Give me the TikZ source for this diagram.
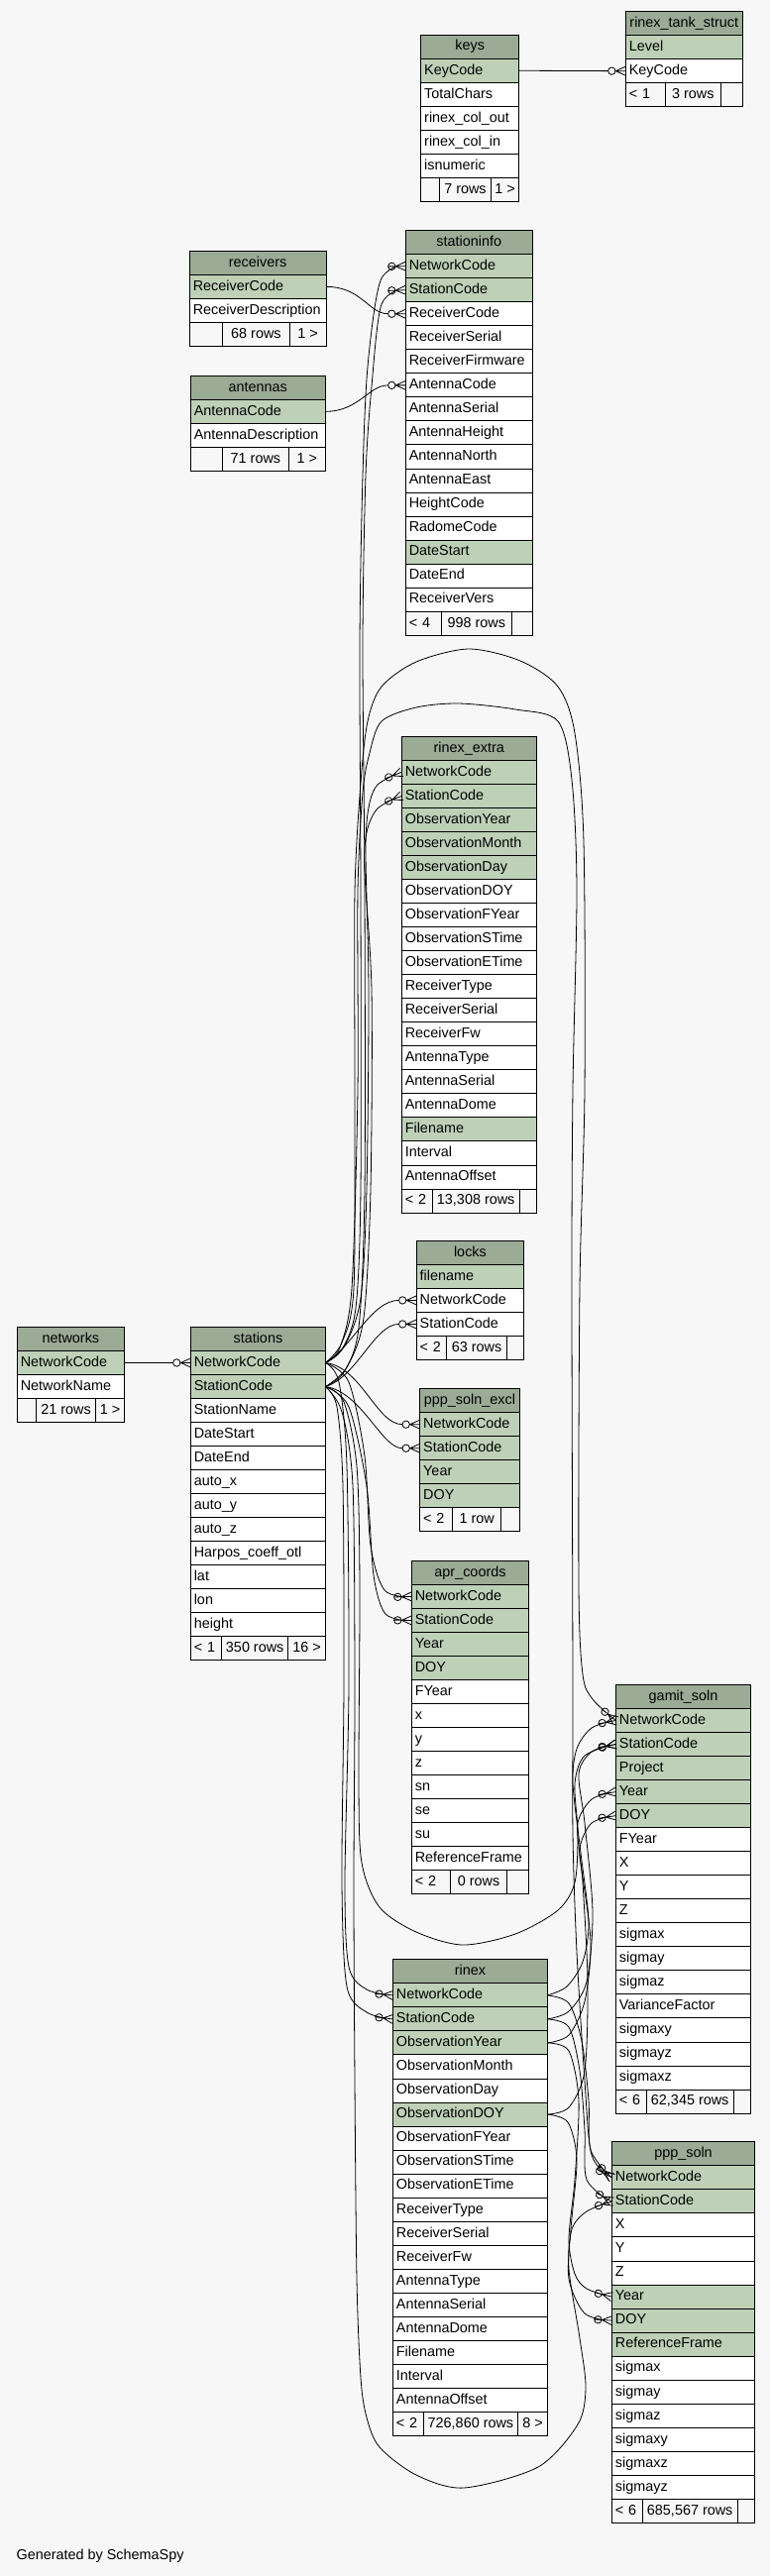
\documentclass[tikz,border=0pt]{standalone}
\usepackage{fontspec}
\setmainfont{Liberation Sans}
\usetikzlibrary{arrows.meta}
\pgfdeclarearrow{
  name = CrowODot,
  setup code = {
    \pgfarrowssettipend{18pt}
    \pgfarrowssetlineend{0.2pt}
    \pgfarrowssetbackend{0pt}
    \pgfarrowssetvisualbackend{0pt}
    \pgfarrowshullpoint{18pt}{4.5pt}
    \pgfarrowshullpoint{18pt}{-4.5pt}
    \pgfarrowshullpoint{0pt}{3.8pt}
    \pgfarrowshullpoint{0pt}{-3.8pt}
  },
  drawing code = {
    \pgfsetdash{}{0pt}
    \pgfpathcircle{\pgfqpoint{4pt}{0pt}}{3.7pt}
    \pgfusepathqstroke
    \pgfpathmoveto{\pgfqpoint{18pt}{4.5pt}}
    \pgfpathlineto{\pgfqpoint{8pt}{0pt}}
    \pgfpathlineto{\pgfqpoint{18pt}{-4.5pt}}
    \pgfpathmoveto{\pgfqpoint{8pt}{0pt}}
    \pgfpathlineto{\pgfqpoint{18pt}{0pt}}
    \pgfusepathqstroke
  }
}
\definecolor{bgc}{HTML}{F7F7F7}
\definecolor{hdrc}{HTML}{9BAB96}
\definecolor{kc}{HTML}{BED1B8}
\definecolor{wc}{HTML}{FFFFFF}
\newcommand{\rh}{24.04}
\newcommand{\tblfont}{\fontsize{14.4pt}{17pt}\selectfont}
\tikzset{
  hdr/.style={draw=black, line width=1pt, fill=hdrc, anchor=north west, minimum height=\rh pt, inner xsep=2pt, inner ysep=0pt, outer sep=0pt, text height=10.5pt, text depth=3pt, font=\tblfont},
  fld/.style={draw=black, line width=1pt, anchor=north west, minimum height=\rh pt, inner xsep=3.5pt, inner ysep=0pt, outer sep=0pt, text height=10.5pt, text depth=3pt, align=left, font=\tblfont},
  ftl/.style={fld, fill=bgc},
  ftc/.style={draw=black, line width=1pt, fill=bgc, anchor=north west, minimum height=\rh pt, inner xsep=0pt, inner ysep=0pt, outer sep=0pt, text height=10.5pt, text depth=3pt, font=\tblfont},
  fk/.style={draw=black, line width=0.8pt, -{CrowODot}},
  sm/.style={smooth, tension=0.5},
}
\newcommand{\dbtable}[6]{%
  \node[hdr, minimum width=#4pt] (#1-h) at (#2,#3) {#5};
  \pgfmathsetmacro{\dbtw}{#4-7}%
  \foreach \rowcol/\rowtext [count=\ri] in {#6}{%
    \node[fld, fill=\rowcol, text width=\dbtw pt] (#1-\ri) at (#2,{#3+\ri*\rh}) {\mbox{\rowtext}};
    \xdef\lastrow{\ri}%
  }
  \coordinate (#1-foot) at (#2,{#3+(\lastrow+1)*\rh});
}
\newcommand{\dbfoot}[7]{%
  \pgfmathsetmacro{\dbfa}{#2-7}%
  \node[ftl, text width=\dbfa pt] (#1-f1) at (#1-foot) {\mbox{#5}};
  \node[ftc, minimum width=#3pt] (#1-f2) at (#1-f1.north east) {#6};
  \node[ftc, minimum width=#4pt] (#1-f3) at (#1-f2.north east) {#7};
}
\begin{document}
\begin{tikzpicture}[x=1pt,y=-1pt]
\fill[bgc] (0,0) rectangle (777,2600);
\useasboundingbox (0,0) rectangle (777,2600);

% ---------- tables ----------
\dbtable{keys}{424.7}{35.2}{99.1}{keys}{kc/KeyCode,wc/TotalChars,wc/rinex\_col\_out,wc/rinex\_col\_in,wc/isnumeric}
\dbfoot{keys}{18.8}{52}{28.3}{}{7 rows}{1 >}

\dbtable{rts}{631.3}{11.6}{118}{rinex\_tank\_struct}{kc/Level,wc/KeyCode}
\dbfoot{rts}{40.1}{56}{21.9}{< 1}{3 rows}{}

\dbtable{rec}{191.3}{253.3}{137.7}{receivers}{kc/ReceiverCode,wc/ReceiverDescription}
\dbfoot{rec}{33.2}{67.9}{36.6}{}{68 rows}{1 >}

\dbtable{ant}{192.3}{379.3}{135.8}{antennas}{kc/AntennaCode,wc/AntennaDescription}
\dbfoot{ant}{32.2}{66.9}{36.7}{}{71 rows}{1 >}

\dbtable{sti}{409.3}{232.6}{127.9}{stationinfo}{kc/NetworkCode,kc/StationCode,wc/ReceiverCode,wc/ReceiverSerial,wc/ReceiverFirmware,wc/AntennaCode,wc/AntennaSerial,wc/AntennaHeight,wc/AntennaNorth,wc/AntennaEast,wc/HeightCode,wc/RadomeCode,kc/DateStart,wc/DateEnd,wc/ReceiverVers}
\dbfoot{sti}{36.2}{70.8}{20.9}{< 4}{998 rows}{}

\dbtable{rex}{405.3}{743.3}{135.8}{rinex\_extra}{kc/NetworkCode,kc/StationCode,kc/ObservationYear,kc/ObservationMonth,kc/ObservationDay,wc/ObservationDOY,wc/ObservationFYear,wc/ObservationSTime,wc/ObservationETime,wc/ReceiverType,wc/ReceiverSerial,wc/ReceiverFw,wc/AntennaType,wc/AntennaSerial,wc/AntennaDome,kc/Filename,wc/Interval,wc/AntennaOffset}
\dbfoot{rex}{30.8}{88.2}{16.8}{< 2}{13,308 rows}{}

\dbtable{locks}{420.2}{1252.3}{108.5}{locks}{kc/filename,wc/NetworkCode,wc/StationCode}
\dbfoot{locks}{30.7}{60.5}{17.3}{< 2}{63 rows}{}

\dbtable{net}{17.3}{1339.4}{108.1}{networks}{kc/NetworkCode,wc/NetworkName}
\dbfoot{net}{19.4}{59.9}{28.8}{}{21 rows}{1 >}

\dbtable{sta}{192.3}{1339.4}{136.2}{stations}{kc/NetworkCode,kc/StationCode,wc/StationName,wc/DateStart,wc/DateEnd,wc/auto\_x,wc/auto\_y,wc/auto\_z,wc/Harpos\_coeff\_otl,wc/lat,wc/lon,wc/height}
\dbfoot{sta}{31.2}{67.4}{37.6}{< 1}{350 rows}{16 >}

\dbtable{pse}{423.7}{1401.6}{100.6}{ppp\_soln\_excl}{kc/NetworkCode,kc/StationCode,kc/Year,kc/DOY}
\dbfoot{pse}{33.2}{48.5}{18.9}{< 2}{1 row}{}

\dbtable{apr}{415.3}{1575.3}{118.4}{apr\_coords}{kc/NetworkCode,kc/StationCode,kc/Year,kc/DOY,wc/FYear,wc/x,wc/y,wc/z,wc/sn,wc/se,wc/su,wc/ReferenceFrame}
\dbfoot{apr}{39.6}{56.5}{22.3}{< 2}{0 rows}{}

\dbtable{gam}{621.4}{1700.4}{136.3}{gamit\_soln}{kc/NetworkCode,kc/StationCode,kc/Project,kc/Year,kc/DOY,wc/FYear,wc/X,wc/Y,wc/Z,wc/sigmax,wc/sigmay,wc/sigmaz,wc/VarianceFactor,wc/sigmaxy,wc/sigmayz,wc/sigmaxz}
\dbfoot{gam}{30.7}{88.2}{17.4}{< 6}{62,345 rows}{}

\dbtable{rnx}{396.4}{1977.8}{156.1}{rinex}{kc/NetworkCode,kc/StationCode,kc/ObservationYear,wc/ObservationMonth,wc/ObservationDay,kc/ObservationDOY,wc/ObservationFYear,wc/ObservationSTime,wc/ObservationETime,wc/ReceiverType,wc/ReceiverSerial,wc/ReceiverFw,wc/AntennaType,wc/AntennaSerial,wc/AntennaDome,wc/Filename,wc/Interval,wc/AntennaOffset}
\dbfoot{rnx}{30.7}{95.7}{29.7}{< 2}{726,860 rows}{8 >}

\dbtable{ppp}{617.4}{2161.8}{144.2}{ppp\_soln}{kc/NetworkCode,kc/StationCode,wc/X,wc/Y,wc/Z,kc/Year,kc/DOY,kc/ReferenceFrame,wc/sigmax,wc/sigmay,wc/sigmaz,wc/sigmaxy,wc/sigmaxz,wc/sigmayz}
\dbfoot{ppp}{30.7}{96.2}{17.3}{< 6}{685,567 rows}{}

\node[anchor=west, inner sep=0pt, font=\tblfont] (gen) at (16.4,2580) {Generated by SchemaSpy};

% ---------- relationships ----------
\draw[fk] (keys-1.east) -- (rts-2.west);
\draw[fk] (net-1.east) -- (sta-1.west);
\draw[fk] (rec-1.east) .. controls (365,289.4) and (372,316.7) .. (sti-3.west);
\draw[fk] (ant-1.east) .. controls (362,415.4) and (372,388.9) .. (sti-6.west);

% stations -> stationinfo
\draw[fk] plot[sm] coordinates {(sta-1.east) (345,1362) (359,1320) (364,1200) (364,900) (363,650) (366,480) (371,370) (384,283) (sti-1.west)};
\draw[fk] plot[sm] coordinates {(sta-2.east) (347,1385) (362,1340) (368,1200) (368,900) (366,650) (369,480) (375,390) (385,307) (sti-2.west)};
% stations -> rinex_extra
\draw[fk] plot[sm] coordinates {(sta-1.east) (348,1358) (364,1310) (370,1200) (372,1000) (369,860) (372,815) (381,792) (rex-1.west)};
\draw[fk] plot[sm] coordinates {(sta-2.east) (350,1380) (367,1330) (374,1200) (375,1000) (368,880) (370,840) (381,816) (rex-2.west)};
% stations -> locks
\draw[fk] (sta-1.east) .. controls (355,1360) and (375,1312.4) .. (locks-2.west);
\draw[fk] (sta-2.east) .. controls (360,1390) and (378,1336.4) .. (locks-3.west);
% stations -> ppp_soln_excl
\draw[fk] (sta-1.east) .. controls (365,1380) and (380,1437.7) .. (pse-1.west);
\draw[fk] (sta-2.east) .. controls (365,1405) and (385,1461.7) .. (pse-2.west);
% stations -> apr_coords
\draw[fk] plot[sm] coordinates {(sta-1.east) (352,1395) (368,1470) (374,1560) (388,1605) (apr-1.west)};
\draw[fk] plot[sm] coordinates {(sta-2.east) (352,1420) (370,1500) (377,1590) (389,1629) (apr-2.west)};
% stations -> rinex
\draw[fk] plot[sm] coordinates {(sta-1.east) (342,1395) (350,1480) (352,1700) (348,1900) (352,1985) (370,2008) (rnx-1.west)};
\draw[fk] plot[sm] coordinates {(sta-2.east) (340,1420) (346,1500) (347,1700) (345,1900) (350,2005) (370,2031) (rnx-2.west)};
% stations -> gamit_soln / ppp_soln (long routes)
\draw[fk] plot[sm] coordinates {(sta-1.east) (345,1355) (357,1300) (358,1100) (358,900) (364,790) (371,728) (385,693) (420,668) (473,655) (525,667) (563,693) (580,740) (589,850) (590,1100) (585,1300) (584,1600) (588,1690) (598,1715) (gam-1.west)};
\draw[fk] plot[sm] coordinates {(sta-1.east) (343,1360) (355,1300) (361,1100) (361,900) (366,800) (373,760) (385,728) (420,714) (463,710) (520,716) (563,728) (577,787) (582,899) (578,1100) (577,1300) (578,1700) (578,1850) (582,1970) (590,2100) (597,2175) (ppp-1.west)};
\draw[fk] plot[sm] coordinates {(sta-2.east) (347,1415) (360,1480) (363,1600) (362,1800) (365,1880) (383,1925) (420,1950) (467,1963) (520,1952) (563,1928) (580,1900) (583,1850) (580,1800) (590,1772) (gam-2.west)};
\draw[fk] plot[sm] coordinates {(sta-2.east) (345,1425) (356,1500) (358,1700) (357,1900) (358,2100) (360,2300) (364,2400) (370,2440) (383,2470) (420,2498) (468,2511) (543,2490) (583,2447) (591,2410) (585,2360) (574,2290) (577,2250) (592,2232) (ppp-2.west)};
% rinex -> gamit_soln
\draw[fk] plot[sm] coordinates {(rnx-1.east) (572,2005) (588,1980) (594,1940) (586,1870) (578,1800) (582,1765) (597,1744) (gam-1.west)};
\draw[fk] plot[sm] coordinates {(rnx-2.east) (574,2030) (592,2000) (598,1930) (590,1840) (584,1790) (597,1768) (gam-2.west)};
\draw[fk] plot[sm] coordinates {(rnx-3.east) (574,2054) (590,2020) (596,1960) (586,1880) (583,1840) (597,1816) (gam-4.west)};
\draw[fk] plot[sm] coordinates {(rnx-6.east) (574,2127) (590,2090) (593,2000) (588,1900) (585,1865) (597,1840) (gam-5.west)};
% rinex -> ppp_soln
\draw[fk] plot[sm] coordinates {(rnx-1.east) (574,2022) (587,2060) (594,2120) (596,2170) (ppp-1.west)};
\draw[fk] plot[sm] coordinates {(rnx-2.east) (574,2046) (585,2090) (590,2150) (592,2200) (ppp-2.west)};
\draw[fk] plot[sm] coordinates {(rnx-3.east) (574,2070) (584,2120) (580,2200) (574,2260) (580,2295) (592,2310) (ppp-6.west)};
\draw[fk] plot[sm] coordinates {(rnx-6.east) (573,2142) (582,2180) (576,2250) (574,2300) (590,2335) (ppp-7.west)};
\end{tikzpicture}
\end{document}
